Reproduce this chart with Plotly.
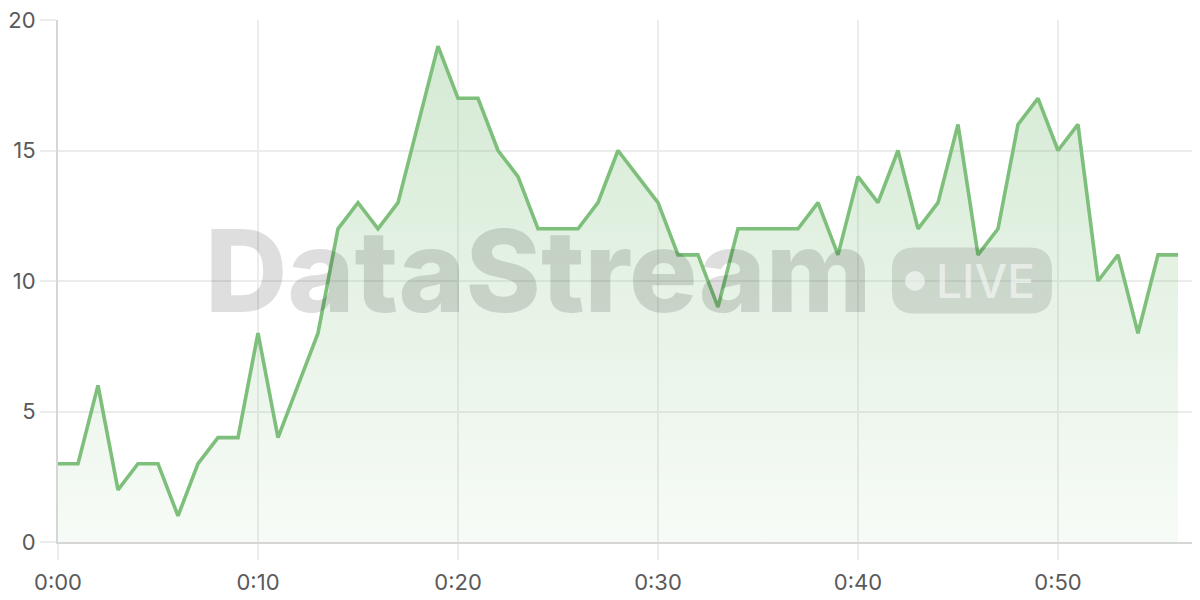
import plotly.graph_objects as go

minutes = list(range(57))
values = [3, 3, 6, 2, 3, 3, 1, 3, 4, 4, 8, 4, 6, 8, 12, 13, 12, 13, 16, 19,
          17, 17, 15, 14, 12, 12, 12, 13, 15, 14, 13, 11, 11, 9, 12, 12, 12, 12,
          13, 11, 14, 13, 15, 12, 13, 16, 11, 12, 16, 17, 15, 16, 10, 11, 8, 11, 11]
x_tickvals = [0, 10, 20, 30, 40, 50]
x_ticktext = ["0:00", "0:10", "0:20", "0:30", "0:40", "0:50"]
y_tickvals = [0, 5, 10, 15, 20]

GREEN = "rgb(125,191,123)"
GRID = "#ececec"
TICKFONT = dict(family="Inter, Roboto, sans-serif", size=22, color="#5a5a5a")

fig = go.Figure()
fig.add_trace(go.Scatter(
    x=minutes, y=values, mode="lines",
    line=dict(color=GREEN, width=3.6),
    fill="tozeroy",
    fillgradient=dict(type="vertical", start=0, stop=19,
                      colorscale=[[0, "rgba(125,191,123,0.06)"],
                                  [1, "rgba(125,191,123,0.33)"]]),
    hoverinfo="skip", showlegend=False,
))

# watermark
fig.add_annotation(text="DataStream", xref="paper", yref="paper",
                   x=0.4203, y=0.52, xanchor="center", yanchor="middle",
                   showarrow=False,
                   font=dict(family="Inter", size=114, weight=800,
                             color="rgba(0,0,0,0.13)"))
fig.add_shape(type="path", xref="paper", yref="paper",
              xsizemode="pixel", ysizemode="pixel",
              xanchor=0.8003, yanchor=0.501,
              path="M -58,-33 L 58,-33 Q 80,-33 80,-11 L 80,11 Q 80,33 58,33 "
                   "L -58,33 Q -80,33 -80,11 L -80,-11 Q -80,-33 -58,-33 Z",
              fillcolor="rgba(0,0,0,0.11)", line=dict(width=0), layer="above")
fig.add_shape(type="circle", xref="paper", yref="paper",
              xsizemode="pixel", ysizemode="pixel",
              xanchor=0.7504, yanchor=0.5,
              x0=-10, x1=10, y0=-10, y1=10,
              fillcolor="rgba(255,255,255,0.55)", line=dict(width=0), layer="above")
fig.add_annotation(text="LIVE", xref="paper", yref="paper",
                   x=0.8126, y=0.5, xanchor="center", yanchor="middle",
                   showarrow=False,
                   font=dict(family="Inter", size=46, weight=500,
                             color="rgba(255,255,255,0.55)"))

fig.update_layout(
    width=1192, height=592,
    margin=dict(l=50, r=0, t=12, b=58),
    paper_bgcolor="white", plot_bgcolor="white",
    xaxis=dict(range=[0, 57.1], tickvals=x_tickvals, ticktext=x_ticktext,
               showgrid=True, gridcolor=GRID, gridwidth=1.5,
               ticks="outside", ticklen=16, tickcolor=GRID, tickwidth=1.5,
               showline=True, linecolor="#d6d6d6", linewidth=2,
               tickfont=TICKFONT, ticklabelstandoff=4, ticklabeloverflow="allow",
               automargin=False, zeroline=False, fixedrange=True),
    yaxis=dict(range=[0, 20], tickvals=y_tickvals,
               showgrid=True, gridcolor=GRID, gridwidth=1.5,
               ticks="outside", ticklen=16, tickcolor=GRID, tickwidth=1.5,
               showline=True, linecolor="#d6d6d6", linewidth=2,
               tickfont=TICKFONT, ticklabeloverflow="allow",
               automargin=False, zeroline=False, fixedrange=True),
)

fig.write_html("out.html")
